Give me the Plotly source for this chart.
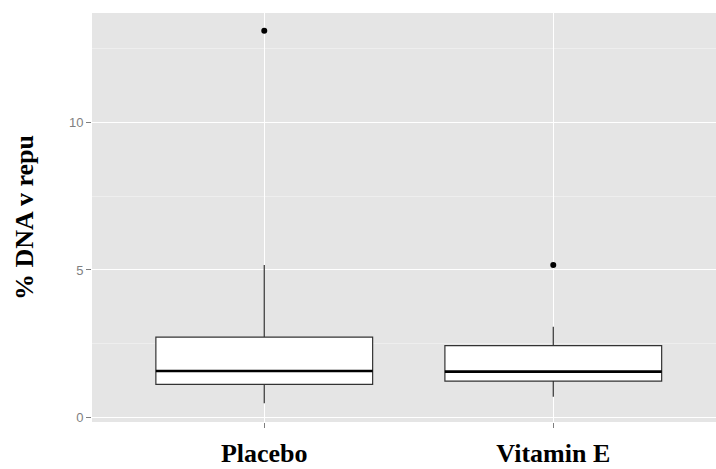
import plotly.graph_objects as go

categories = ["Placebo", "Vitamin E"]
q1 = [1.13, 1.24]
median = [1.58, 1.56]
q3 = [2.73, 2.44]
lower_whisker = [0.49, 0.71]
upper_whisker = [5.17, 3.08]
outlier_cat = ["Placebo", "Vitamin E"]
outlier_val = [13.1, 5.17]
y_ticks = [0, 5, 10]

fig = go.Figure()
fig.add_trace(go.Box(
    x=categories, q1=q1, median=median, q3=q3,
    lowerfence=lower_whisker, upperfence=upper_whisker,
    boxpoints=False, width=0.75, fillcolor="white",
    line=dict(color="#333333", width=1.2), whiskerwidth=0,
    showlegend=False, hoverinfo="skip",
))
# thicker median line (ggplot style)
fig.add_trace(go.Box(
    x=categories, q1=median, median=median, q3=median,
    lowerfence=median, upperfence=median,
    boxpoints=False, width=0.75, fillcolor="rgba(0,0,0,0)",
    line=dict(color="black", width=2.6), whiskerwidth=0,
    showlegend=False, hoverinfo="skip",
))
fig.add_trace(go.Scatter(
    x=outlier_cat, y=outlier_val, mode="markers",
    marker=dict(color="black", size=6), showlegend=False,
))

fig.update_layout(
    width=716, height=469,
    margin=dict(l=92, r=0, t=13, b=47),
    paper_bgcolor="white", plot_bgcolor="#e5e5e5",
    boxmode="overlay",
    font=dict(family="Liberation Sans, Arial", color="#7f7f7f", size=13),
)
fig.update_xaxes(
    type="category", range=[-0.596, 1.563], automargin=False,
    showgrid=True, gridcolor="white", gridwidth=1.2,
    ticks="outside", ticklen=5, tickcolor="#7f7f7f", tickwidth=1,
    ticklabelstandoff=3,
    tickfont=dict(family="Liberation Serif, Times New Roman", size=26, color="black", weight="bold"),
    zeroline=False, showline=False,
)
fig.update_yaxes(
    range=[-0.146, 13.70], automargin=False,
    tickvals=y_ticks, ticktext=[str(v) for v in y_ticks],
    showgrid=True, gridcolor="white", gridwidth=1.2,
    minor=dict(tickvals=[2.5, 7.5, 12.5], showgrid=True, gridcolor="#eeeeee", gridwidth=0.6, ticks=""),
    ticks="outside", ticklen=5, tickcolor="#7f7f7f", tickwidth=1,
    tickfont=dict(size=13, color="#7f7f7f"),
    zeroline=False, showline=False,
    title=dict(text="% DNA v repu", standoff=27,
               font=dict(family="Liberation Serif, Times New Roman", size=26, color="black", weight="bold")),
)

fig.write_html("out.html")
